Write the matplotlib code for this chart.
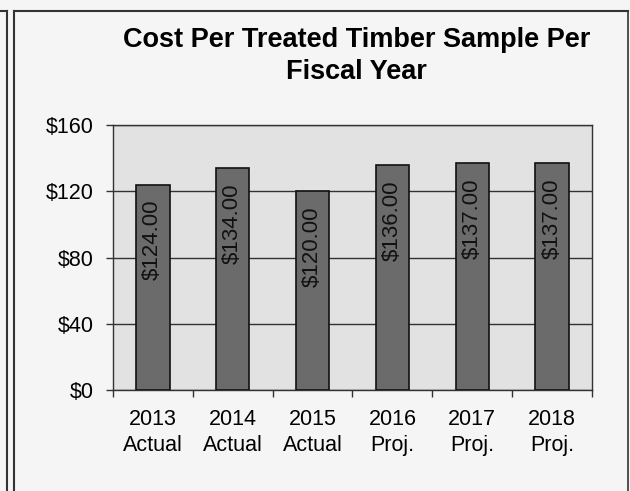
import matplotlib
matplotlib.use("Agg")
import matplotlib.pyplot as plt
from matplotlib.lines import Line2D

plt.rcParams['font.family'] = ['Liberation Sans', 'DejaVu Sans']

years = ['2013\nActual', '2014\nActual', '2015\nActual', '2016\nProj.', '2017\nProj.', '2018\nProj.']
costs = [124.00, 134.00, 120.00, 136.00, 137.00, 137.00]
yticks = [0, 40, 80, 120, 160]

fig = plt.figure(figsize=(6.30, 4.91), dpi=100)
fig.patch.set_facecolor('#f5f5f5')
ax = fig.add_axes([0.179, 0.2057, 0.761, 0.5397])
ax.set_facecolor('#e2e2e2')

x = range(len(costs))
bars = ax.bar(x, costs, width=0.42, color='#6b6b6b', edgecolor='#111111', linewidth=1.2, zorder=3)
for b, v in zip(bars, costs):
    ax.annotate('${:.2f}'.format(v), (b.get_x() + b.get_width() / 2, v),
                xytext=(0, -11), textcoords='offset points', rotation=90,
                ha='center', va='top', fontsize=16, color='#111111', zorder=4)

ax.set_xlim(-0.5, len(costs) - 0.5)
ax.set_ylim(0, 160)
ax.set_yticks(yticks)
ax.set_yticklabels(['${}'.format(t) for t in yticks], fontsize=15.5)
ax.yaxis.grid(True, color='#333333', linewidth=1.0, zorder=1)
ax.set_axisbelow(True)

ax.set_xticks([i + 0.5 for i in range(-1, len(costs))], minor=False)
ax.set_xticklabels([])
ax.set_xticks(list(x), minor=True)
ax.set_xticklabels(years, minor=True, fontsize=15.5, linespacing=1.3)
ax.tick_params(axis='x', which='minor', length=0, pad=14)
ax.tick_params(axis='x', which='major', length=5, width=1, color='#333333')
ax.tick_params(axis='y', length=5, width=1, color='#333333', pad=9)

for s in ax.spines.values():
    s.set_color('#333333')
    s.set_linewidth(1.0)

fig.text(0.566, 0.886, 'Cost Per Treated Timber Sample Per\nFiscal Year', ha='center', va='center',
         fontsize=19.5, fontweight='bold', linespacing=1.27)

# outer frame lines
fig.add_artist(Line2D([0.011, 0.011], [0, 0.978], color='#333333', lw=1.5))
fig.add_artist(Line2D([0, 0.011], [0.978, 0.978], color='#333333', lw=1.5))
fig.add_artist(Line2D([0.022, 0.022], [0, 0.978], color='#333333', lw=1.5))
fig.add_artist(Line2D([0.022, 0.997], [0.978, 0.978], color='#333333', lw=1.5))
fig.add_artist(Line2D([0.997, 0.997], [0, 0.978], color='#333333', lw=1.2))

fig.savefig('out.png', dpi=100, facecolor=fig.get_facecolor())
